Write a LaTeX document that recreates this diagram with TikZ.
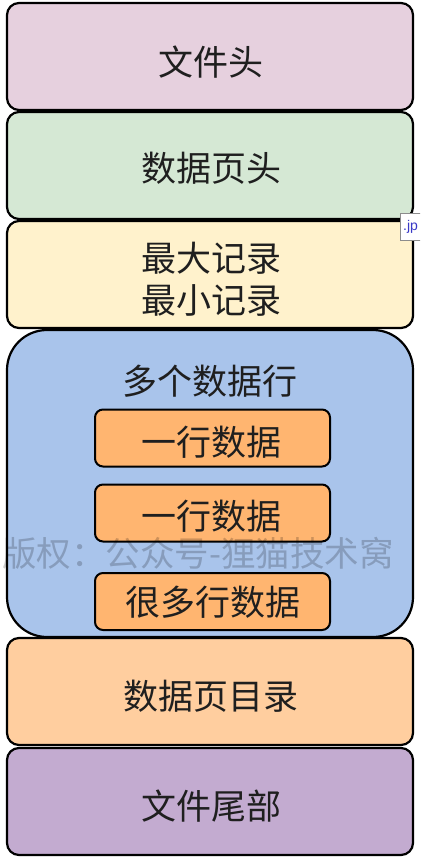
\documentclass[tikz,border=0pt]{standalone}
\usepackage{fontspec}
\setmainfont{Noto Sans CJK SC}
\newfontfamily\latinsans{Liberation Sans}
\begin{document}
\begin{tikzpicture}[x=1pt,y=-1pt,
  layer/.style={draw=black, line width=2.2pt, rounded corners=12pt,
    minimum width=406pt, minimum height=107pt, inner sep=0pt},
  rowbox/.style={draw=black, line width=2pt, rounded corners=8pt, fill=rowfill,
    minimum width=235pt, minimum height=57pt, inner sep=0pt},
  lbl/.style={font=\fontsize{35}{40}\selectfont, text=black!88, inner sep=0pt}
]
\definecolor{headfill}{HTML}{E6D0DE}
\definecolor{pagefill}{HTML}{D5E8D4}
\definecolor{recfill}{HTML}{FFF2CC}
\definecolor{rowsfill}{HTML}{A9C4EB}
\definecolor{rowfill}{HTML}{FFB570}
\definecolor{dirfill}{HTML}{FFCE9F}
\definecolor{tailfill}{HTML}{C3ABD0}
\useasboundingbox (0,0) rectangle (420,861);
\fill[white] (0,0) rectangle (420,861);

% stacked layers of the page
\node[layer, fill=headfill] (filehead) at (210,56.5) {};
\node[layer, fill=pagefill] (pagehead) at (210,165.5) {};
\node[layer, fill=recfill] (minmax) at (210,274.5) {};
\node[layer, fill=rowsfill, rounded corners=40pt, minimum height=307pt] (rows) at (210,483.5) {};
\node[layer, fill=dirfill] (pagedir) at (210,691.5) {};
\node[layer, fill=tailfill] (filetail) at (210,801.5) {};

% layer labels
\node[lbl] (tfilehead) at (211,62) {文件头};
\node[lbl] (tpagehead) at (211,168) {数据页头};
\node[lbl] (tmax) at (211,258) {最大记录};
\node[lbl] (tmin) at (211,300) {最小记录};
\node[lbl] (trows) at (210,381) {多个数据行};
\node[lbl] (tpagedir) at (211,696) {数据页目录};
\node[lbl] (tfiletail) at (211,806) {文件尾部};

% individual rows inside the row area
\node[rowbox] (row1) at (212.5,438) {};
\node[rowbox] (row2) at (212.5,513) {};
\node[rowbox] (rowmany) at (212.5,601.5) {};
\node[lbl] (trow1) at (211,442) {一行数据};
\node[lbl] (trow2) at (211,516) {一行数据};
\node[lbl] (trowmany) at (213,602) {很多行数据};

% copyright watermark
\node[font=\fontsize{34.5}{38}\selectfont, text=black, opacity=0.2, anchor=west, inner sep=0pt]
  (mark) at (2,553) {版权：公众号-狸猫技术窝};

% file-name tip at the right edge
\begin{scope}
\clip (0,0) rectangle (420,861);
\node[draw=black!45, fill=white, line width=0.8pt, anchor=north west,
  minimum width=30pt, minimum height=27pt, inner sep=0pt] (tip) at (400,213) {};
\node[font=\latinsans\fontsize{14}{17}\selectfont, text=blue!55!gray, anchor=west, inner sep=0pt]
  (tiptext) at (403,227) {.jp};
\end{scope}
\end{tikzpicture}
\end{document}
